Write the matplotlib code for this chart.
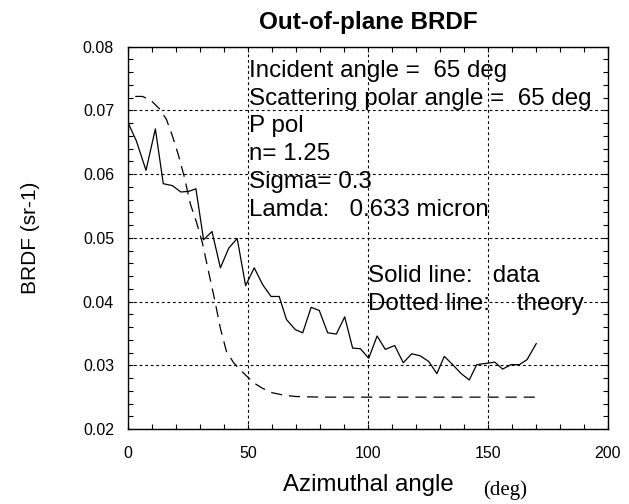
import matplotlib
matplotlib.use("Agg")
import matplotlib.pyplot as plt
from matplotlib.ticker import MultipleLocator

# measured data (solid line)
angle_data = [0, 3.5, 7.5, 11.4, 14.7, 18.5, 22, 25.3, 28.3, 31.5,
              35, 38.5, 42, 45.5, 49, 52.6, 56.2, 59.6, 63, 66,
              69.7, 72.8, 76.3, 79.7, 83.2, 86.8, 90.3, 93.6, 96.8, 100.3,
              103.8, 107.2, 111.1, 114.7, 118.2, 121.7, 125.3, 128.7, 131.8, 135.3,
              138.8, 142.2, 145.3, 149.2, 152.8, 156.1, 159.6, 163.1, 166.3, 170.1]
brdf_data = [0.0681, 0.0652, 0.0606, 0.0671, 0.0585, 0.0582, 0.0572, 0.0573, 0.0577, 0.0497,
             0.0510, 0.0453, 0.0484, 0.0499, 0.0425, 0.0453, 0.0426, 0.0408, 0.0408, 0.0372,
             0.0356, 0.0351, 0.0391, 0.0386, 0.0351, 0.0349, 0.0376, 0.0327, 0.0326, 0.0311,
             0.0346, 0.0325, 0.0331, 0.0304, 0.0318, 0.0315, 0.0306, 0.0287, 0.0314, 0.0301,
             0.0287, 0.0277, 0.0301, 0.0303, 0.0305, 0.0294, 0.0301, 0.0301, 0.0309, 0.0334]

# theory (dashed line)
angle_theory = [3, 6, 9.5, 13, 16, 18.5, 21, 23.5, 26, 28.5, 31, 33.5, 36, 38.5, 41,
                44, 47, 50, 53, 56, 60, 65, 70, 80, 90, 100, 110, 120, 130, 140,
                150, 160, 170]
brdf_theory = [0.0722, 0.0722, 0.0716, 0.0703, 0.0686, 0.0660, 0.0630, 0.0595, 0.0553, 0.0525,
               0.0492, 0.0448, 0.0405, 0.0358, 0.0322, 0.0304, 0.0292, 0.0281, 0.0271, 0.0264,
               0.0257, 0.0253, 0.0251, 0.0250, 0.0250, 0.0250, 0.0250, 0.0250, 0.0250, 0.0250,
               0.0250, 0.0250, 0.0250]

info_lines = ["Incident angle =  65 deg", "Scattering polar angle =  65 deg", "P pol",
              "n= 1.25", "Sigma= 0.3", "Lamda:   0.633 micron"]

plt.rcParams['font.family'] = ['Liberation Sans', 'DejaVu Sans']
plt.rcParams['lines.scale_dashes'] = False

fig = plt.figure(figsize=(6.29, 5.04), dpi=100)
ax = fig.add_axes([0.2035, 0.1488, 0.7631, 0.7585])

ax.plot(angle_data, brdf_data, color='black', lw=0.9)
ax.plot(angle_theory, brdf_theory, color='black', lw=0.9, dashes=(8, 5))

ax.set_xlim(0, 200)
ax.set_ylim(0.02, 0.08)
ax.xaxis.set_major_locator(MultipleLocator(50))
ax.xaxis.set_minor_locator(MultipleLocator(10))
ax.yaxis.set_major_locator(MultipleLocator(0.01))
ax.yaxis.set_minor_locator(MultipleLocator(0.002))
ax.set_yticklabels([f"{v:.2f}" for v in ax.get_yticks()])
ax.tick_params(which='both', direction='in', top=True, right=True,
               length=3.5, width=0.8, labelsize=11.5)
ax.tick_params(axis='x', pad=12)
ax.tick_params(axis='y', pad=10)
ax.grid(True, which='major', color='black', lw=0.8, linestyle=(0, (2, 2)))
for s in ax.spines.values():
    s.set_linewidth(1.0)

ax.set_title("Out-of-plane BRDF", fontsize=17.5, fontweight='bold', pad=13)
ax.set_ylabel("BRDF (sr-1)", fontsize=15, va='center')
ax.yaxis.set_label_coords(-0.204, 0.5)
ax.set_xlabel("Azimuthal angle", fontsize=17.3, va='top')
ax.xaxis.set_label_coords(0.5, -0.118)
ax.text(0.785, -0.133, "(deg)", transform=ax.transAxes, ha='center', va='top',
        fontsize=15, family='Liberation Serif')

for i, line in enumerate(info_lines):
    ax.text(50.5, 0.0753 - i * 0.00438, line, fontsize=17.4, va='baseline')
ax.text(99.8, 0.0431, "Solid line:   data", fontsize=17.4, va='baseline')
ax.text(99.8, 0.0387, "Dotted line:    theory", fontsize=17.4, va='baseline')

fig.savefig("out.png", dpi=100)
